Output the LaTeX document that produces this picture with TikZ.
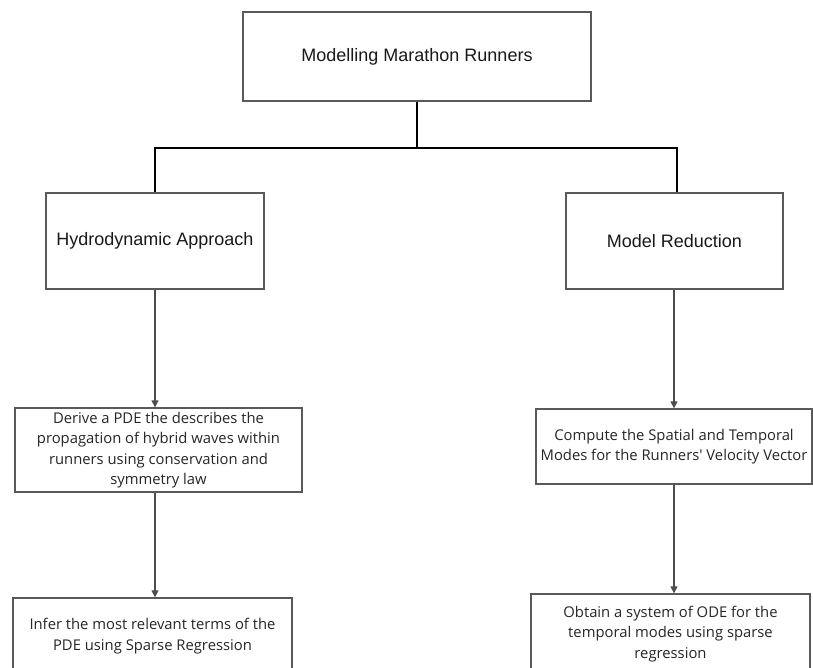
\documentclass[tikz,border=0pt]{standalone}
\usepackage{fontspec}
\setmainfont{Liberation Sans}
\newfontfamily\bodyfont{Open Sans}
\usetikzlibrary{arrows.meta}
\begin{document}
\begin{tikzpicture}[x=1pt,y=-1pt,
 box/.style={draw=black!65, line width=1.3pt, fill=white, inner sep=0pt, align=center},
 head/.style={box, font=\fontsize{18}{21}\selectfont, text=black!90},
 body/.style={box, font=\bodyfont\fontsize{14.8}{20.5}\selectfont, text=black!85},
 link/.style={draw=black, line width=1.8pt},
 arr/.style={draw=black!70, line width=1.3pt, -{Triangle[length=7pt,width=7pt]}}]
\useasboundingbox (0,0) rectangle (813,667);
\clip (0,0) rectangle (813,667);
\node[head, minimum width=348pt, minimum height=89pt] (top) at (417,56.5) {Modelling Marathon Runners};
\node[head, minimum width=218pt, minimum height=96pt] (hydro) at (155,241) {Hydrodynamic Approach};
\node[head, minimum width=217pt, minimum height=96pt] (mr) at (674.5,241) {Model Reduction};
\node[body, minimum width=287pt, minimum height=84pt] (pde) at (158.5,450) {Derive a PDE the describes the\\propagation of hybrid waves within\\runners using conservation and\\symmetry law};
\node[body, minimum width=279pt, minimum height=76pt] (infer) at (152.5,636) {Infer the most relevant terms of the\\PDE using Sparse Regression};
\node[body, minimum width=276pt, minimum height=75pt] (modes) at (674,446.5) {Compute the Spatial and Temporal\\Modes for the Runners' Velocity Vector};
\node[body, minimum width=279pt, minimum height=80pt] (ode) at (670.5,634) {Obtain a system of ODE for the\\temporal modes using sparse\\regression};
\coordinate (j) at (417,148);
\draw[link] (top.south) -- (j) -| (hydro.north);
\draw[link] (j) -| ([xshift=2.5pt]mr.north);
\draw[arr] (hydro.south) -- (hydro.south |- pde.north);
\draw[arr] (hydro.south |- pde.south) -- (hydro.south |- infer.north);
\draw[arr] (modes.north |- mr.south) -- (modes.north);
\draw[arr] (modes.south) -- (modes.south |- ode.north);
\end{tikzpicture}
\end{document}
